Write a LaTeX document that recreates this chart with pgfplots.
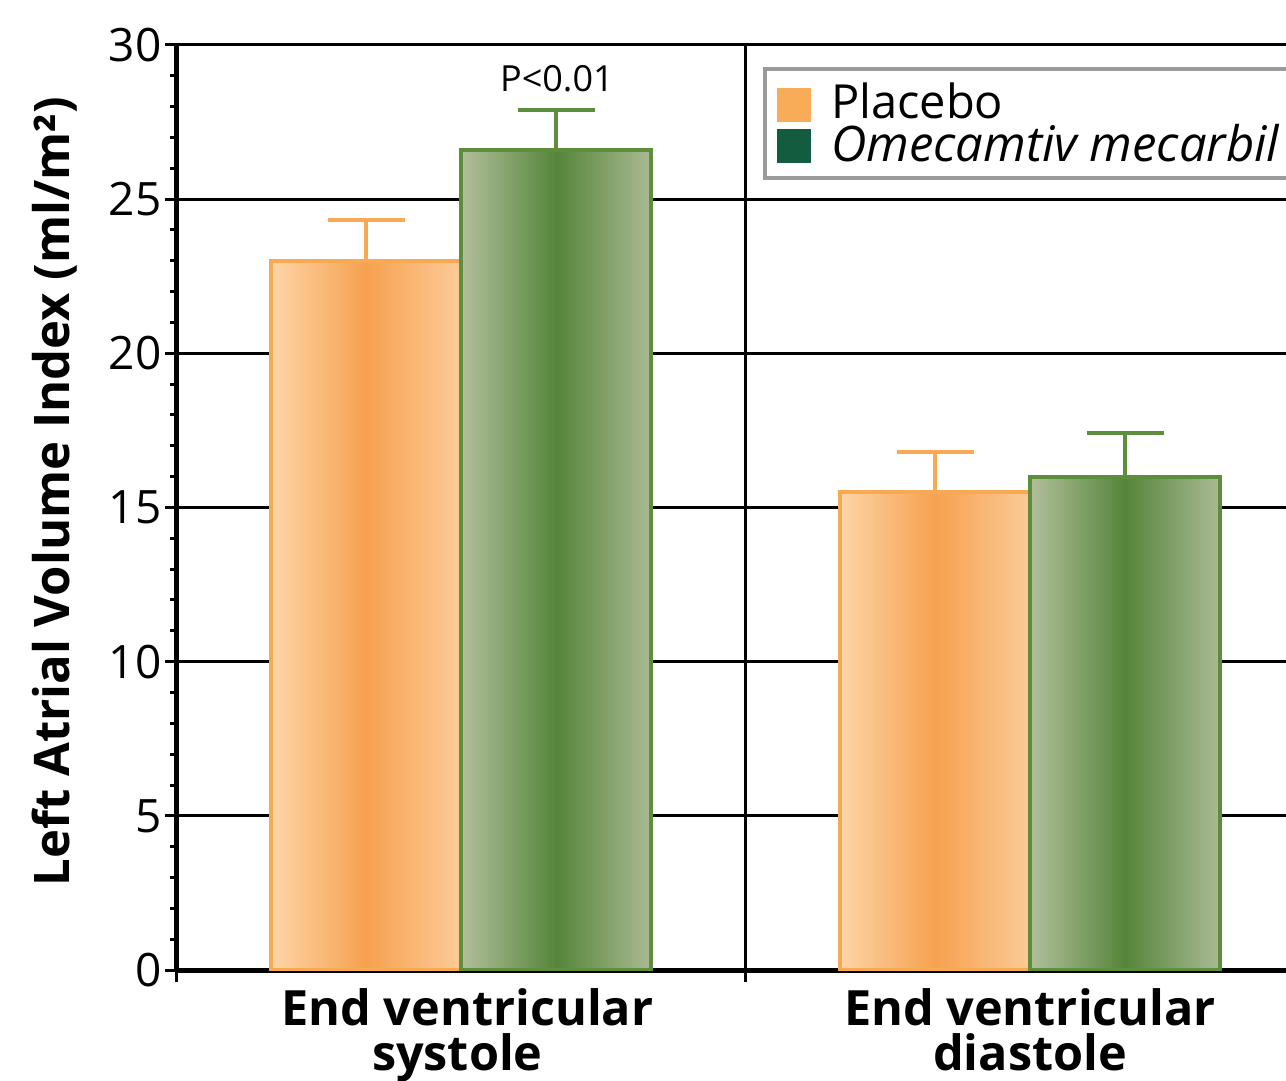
\documentclass[border=0pt]{standalone}
\usepackage{fontspec}
\setmainfont{Open Sans}
\usepackage{pgfplots}
\pgfplotsset{compat=1.18}
\usetikzlibrary{calc}
\definecolor{oborder}{HTML}{F7A954}
\definecolor{olight}{HTML}{FDD5A8}
\definecolor{olightr}{HTML}{FCCB99}
\definecolor{omid}{HTML}{F6A14F}
\definecolor{gborder}{HTML}{5E8E3C}
\definecolor{glight}{HTML}{B2BF9B}
\definecolor{glightr}{HTML}{ABBA94}
\definecolor{gmid}{HTML}{55853A}
\definecolor{legorange}{HTML}{F9AC58}
\definecolor{leggreen}{HTML}{145C40}
\definecolor{leggray}{HTML}{9A9A9A}
\begin{document}
\begin{tikzpicture}
\begin{axis}[name=ax,
  width=554.5pt, height=462.5pt, scale only axis,
  xmin=0, xmax=3.9, ymin=0, ymax=30,
  axis lines=left, axis line style={line width=2.5pt, -},
  xtick={0,2}, xticklabels={},
  extra x ticks={1,3},
  extra x tick labels={{\hspace*{6pt}End ventricular\\systole\hspace*{4pt}},{End ventricular\\diastole}},
  extra x tick style={major tick length=0pt, grid=none,
    tick label style={font=\bfseries\fontsize{24.3}{22.5}\selectfont, align=center, inner sep=0pt, yshift=-9pt}},
  xmajorgrids, ymajorgrids,
  ytick={0,5,...,30}, minor y tick num=4,
  major grid style={black, line width=1.5pt},
  tick style={black, line width=1.5pt},
  major tick length=6pt, minor tick length=3.5pt, tick align=outside,
  yticklabel style={font=\fontsize{23}{23}\selectfont, inner sep=1.5pt},
  /pgf/number format/assume math mode=true,
  ylabel={\bfseries Left Atrial Volume Index (ml/m²)},
  every axis y label/.style={at={(rel axis cs:-0.11,0.517)}, rotate=90, anchor=center, font=\bfseries\fontsize{24.5}{24.5}\selectfont},
  legend style={at={(rel axis cs:0.5284,0.976)}, anchor=north west, draw=leggray, line width=2pt,
    font=\fontsize{23.5}{23.5}\selectfont, inner xsep=6pt, inner ysep=5pt, row sep=-3pt,
    nodes={inner xsep=0pt},
    /tikz/every odd column/.append style={column sep=10pt}},
  legend cell align=left,
]
\addlegendimage{legend image code/.code={\fill[legorange] (0pt,-8.5pt) rectangle (15pt,6.5pt);}}
\addlegendentry{Placebo}
\addlegendimage{legend image code/.code={\fill[leggreen] (0pt,-8.5pt) rectangle (15pt,6.5pt);}}
\addlegendentry{\itshape\fontsize{24.5}{24.5}\selectfont Omecamtiv mecarbil}
% bars (half width 0.334 around each bar centre)
\addplot[draw=oborder, line width=2pt, left color=olight, right color=olightr, middle color=omid, forget plot]
  coordinates {(0.332,0) (0.332,23.0) (1.0,23.0) (1.0,0)} -- cycle;
\addplot[draw=oborder, line width=2pt, left color=olight, right color=olightr, middle color=omid, forget plot]
  coordinates {(2.332,0) (2.332,15.5) (3.0,15.5) (3.0,0)} -- cycle;
\addplot[draw=gborder, line width=2pt, left color=glight, right color=glightr, middle color=gmid, forget plot]
  coordinates {(1.0,0) (1.0,26.6) (1.668,26.6) (1.668,0)} -- cycle;
\addplot[draw=gborder, line width=2pt, left color=glight, right color=glightr, middle color=gmid, forget plot]
  coordinates {(3.0,0) (3.0,16.0) (3.668,16.0) (3.668,0)} -- cycle;
% error bars
\addplot[draw=none, mark=none, forget plot,
  error bars/.cd, y dir=plus, y explicit,
  error bar style={draw=oborder, line width=2pt},
  error mark options={draw=oborder, line width=2pt, rotate=90, mark size=19.25pt}]
  coordinates {(0.666,23.0) +- (0,1.33) (2.666,15.5) +- (0,1.3)};
\addplot[draw=none, mark=none, forget plot,
  error bars/.cd, y dir=plus, y explicit,
  error bar style={draw=gborder, line width=2pt},
  error mark options={draw=gborder, line width=2pt, rotate=90, mark size=19.25pt}]
  coordinates {(1.334,26.6) +- (0,1.3) (3.334,16.0) +- (0,1.4)};
\node[font=\fontsize{18}{18}\selectfont] at (axis cs:1.336,28.9) {P<0.01};
\end{axis}
\pgfresetboundingbox
\path[use as bounding box] ($(ax.south west)+(-88.5pt,-55pt)$) rectangle ($(ax.north east)+(0pt,22.5pt)$);
\end{tikzpicture}
\end{document}
